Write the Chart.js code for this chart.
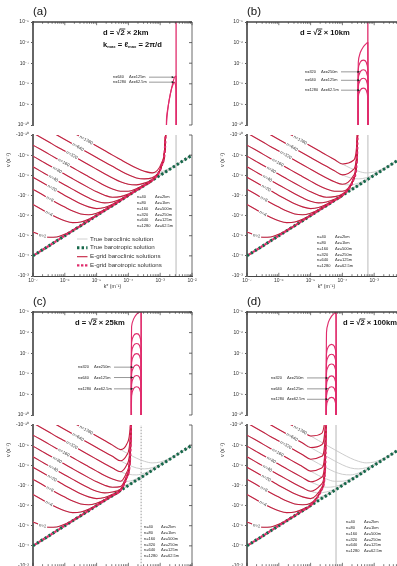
<!DOCTYPE html>
<html lang="en">
<head>
<meta charset="utf-8">
<title>E-grid dispersion relation</title>
<script src="https://cdn.jsdelivr.net/npm/chart.js@4.4.1/dist/chart.umd.min.js"></script>
<style>
  html, body { margin: 0; padding: 0; background: #fff; }
  #fig { position: relative; width: 397px; height: 566px; overflow: hidden; }
  #fig canvas { position: absolute; }
</style>
</head>
<body>
<div id="fig"></div>
<script>
'use strict';

// k* grid (m^-1) the true curves were read on
const kGrid = [1e-7, 1.78e-7, 3.16e-7, 5.62e-7, 1e-6, 1.78e-6, 3.16e-6, 5.62e-6, 1e-5, 1.78e-5, 3.16e-5,
  5.62e-5, 1e-4, 1.78e-4, 3.16e-4, 5.62e-4, 1e-3, 1.78e-3, 3.16e-3, 5.62e-3, 1e-2];

// |nu| (s^-1) of the true barotropic solution
const baroNu = [1e-4, 5.6e-5, 3.2e-5, 1.78e-5, 1e-5, 5.6e-6, 3.2e-6, 1.78e-6, 1e-6, 5.6e-7, 3.2e-7,
  1.78e-7, 1e-7, 5.6e-8, 3.2e-8, 1.78e-8, 1e-8, 5.6e-9, 3.2e-9, 1.78e-9, 1e-9];

// |nu| of the true baroclinic solutions, up to where they join the barotropic line
const bc1280 = [5.6e-12, 9.3e-12, 1.6e-11, 2.6e-11, 4.5e-11, 7.4e-11, 1.26e-10, 2.1e-10, 3.5e-10, 5.9e-10, 1.0e-9,
  1.66e-9, 2.75e-9, 4.4e-9, 6.3e-9, 7.6e-9, 6.9e-9, 4.9e-9, 3.0e-9, 1.74e-9, 1.0e-9];
const bc640 = [2.1e-11, 3.5e-11, 5.9e-11, 9.9e-11, 1.66e-10, 2.8e-10, 4.7e-10, 7.9e-10, 1.32e-9, 2.2e-9, 3.6e-9,
  6.0e-9, 9.5e-9, 1.35e-8, 1.51e-8, 1.32e-8, 8.9e-9, 5.4e-9, 3.1e-9];
const bc320 = [7.9e-11, 1.33e-10, 2.24e-10, 3.8e-10, 6.3e-10, 1.06e-9, 1.78e-9, 3.0e-9, 5.0e-9, 8.3e-9, 1.35e-8,
  2.1e-8, 2.8e-8, 3.0e-8, 2.45e-8, 1.62e-8, 9.8e-9];
const bc160 = [3.2e-10, 5.3e-10, 8.9e-10, 1.5e-9, 2.5e-9, 4.2e-9, 7.1e-9, 1.17e-8, 1.95e-8, 3.2e-8, 4.8e-8,
  6.2e-8, 6.2e-8, 4.7e-8, 2.95e-8, 1.74e-8];
const bc80 = [1.12e-9, 1.88e-9, 3.2e-9, 5.3e-9, 8.9e-9, 1.5e-8, 2.5e-8, 4.1e-8, 6.6e-8, 9.8e-8, 1.23e-7,
  1.15e-7, 8.5e-8, 5.3e-8, 3.1e-8];
const bc40 = [3.8e-9, 6.4e-9, 1.07e-8, 1.8e-8, 3.0e-8, 5.0e-8, 8.3e-8, 1.32e-7, 1.95e-7, 2.35e-7, 2.1e-7,
  1.55e-7, 9.5e-8, 5.5e-8];
const bc20 = [1.26e-8, 2.1e-8, 3.55e-8, 5.9e-8, 1.0e-7, 1.62e-7, 2.6e-7, 3.7e-7, 4.5e-7, 4.0e-7, 2.75e-7,
  1.7e-7, 9.8e-8];
const bc8 = [5.0e-8, 8.3e-8, 1.41e-7, 2.35e-7, 3.8e-7, 6.0e-7, 8.3e-7, 9.1e-7, 7.6e-7, 5.1e-7, 3.0e-7];
const bc4 = [2.8e-7, 4.7e-7, 7.8e-7, 1.23e-6, 1.82e-6, 2.25e-6, 2.1e-6, 1.51e-6, 9.5e-7, 5.5e-7];
const bc1 = [6.5e-6, 9.5e-6, 1.2e-5, 1.15e-5, 8.5e-6, 5.3e-6, 3.1e-6];

const modeN = [1280, 640, 320, 160, 80, 40, 20, 8, 4, 1];
const bcCurves = [bc1280, bc640, bc320, bc160, bc80, bc40, bc20, bc8, bc4, bc1];

// where the "n=" tags sit on the curves
const tagK = [4.7e-6, 2.6e-6, 1.66e-6, 9.3e-7, 5.8e-7, 4.4e-7, 4.0e-7, 3.4e-7, 3.16e-7, 2.0e-7];
const tagNu = [1.78e-10, 4.0e-10, 1.0e-9, 2.35e-9, 5.4e-9, 1.45e-8, 4.4e-8, 1.5e-7, 7.9e-7, 1.0e-5];

// the four grids
const panelTag = ['(a)', '(b)', '(c)', '(d)'];
const spacing = ['2km', '10km', '25km', '100km'];
const kLeft = [1.58e-3, 3.16e-4, 1.26e-4, 3.16e-5];   // E-grid curves turn vertical here
const kRight = [3.16e-3, 6.31e-4, 2.51e-4, 6.31e-5];  // pi*sqrt(2)/d line
const keepTo = [15, 12, 11, 8];                        // last grid point before the E-grid departs
const tailK1 = [1.12e-3, 2.24e-4, 8.9e-5, 2.24e-5];
const tailK2 = [1.45e-3, 2.88e-4, 1.15e-4, 2.88e-5];
const nuZero = 1e-12;                                  // nu crosses zero (off the log axis)

// E-grid |nu| near the turn, order of modeN then barotropic
const tailA1 = [2.3e-9, 2.9e-9, 3.1e-9, 3.2e-9, 3.2e-9, 3.2e-9, 3.2e-9, 3.2e-9, 3.2e-9, 3.2e-9, 3.2e-9];
const tailA2 = [1.8e-10, 2.0e-10, 2.1e-10, 2.2e-10, 2.2e-10, 2.2e-10, 2.2e-10, 2.2e-10, 2.2e-10, 2.2e-10, 2.2e-10];
const tailB1 = [1.8e-9, 5.1e-9, 1.02e-8, 1.38e-8, 1.51e-8, 1.58e-8, 1.58e-8, 1.58e-8, 1.58e-8, 1.58e-8, 1.58e-8];
const tailB2 = [1.9e-10, 4.8e-10, 8.1e-10, 1.0e-9, 1.07e-9, 1.1e-9, 1.1e-9, 1.1e-9, 1.1e-9, 1.1e-9, 1.1e-9];
const tailC1 = [8.7e-10, 3.1e-9, 9.5e-9, 2.2e-8, 3.2e-8, 3.7e-8, 3.9e-8, 4.0e-8, 4.0e-8, 4.0e-8, 4.0e-8];
const tailC2 = [9.8e-11, 3.3e-10, 9.3e-10, 1.86e-9, 2.4e-9, 2.6e-9, 2.7e-9, 2.75e-9, 2.75e-9, 2.75e-9, 2.75e-9];
const tailD1 = [2.6e-10, 9.5e-10, 3.6e-9, 1.35e-8, 3.9e-8, 8.3e-8, 1.26e-7, 1.48e-7, 1.55e-7, 1.58e-7, 1.58e-7];
const tailD2 = [2.9e-11, 1.07e-10, 4.0e-10, 1.41e-9, 3.8e-9, 7.1e-9, 9.3e-9, 1.05e-8, 1.1e-8, 1.1e-8, 1.1e-8];
const tail1 = [tailA1, tailB1, tailC1, tailD1];
const tail2 = [tailA2, tailB2, tailC2, tailD2];

// positive-nu arches between kLeft and kRight (upper panels)
const archKA = [1.58e-3, 1.82e-3, 2.29e-3, 2.82e-3, 3.16e-3];
const archKB = [3.16e-4, 3.63e-4, 4.57e-4, 5.62e-4, 6.31e-4];
const archKC = [1.26e-4, 1.45e-4, 1.82e-4, 2.24e-4, 2.51e-4];
const archKD = [3.16e-5, 3.63e-5, 4.57e-5, 5.62e-5, 6.31e-5];
const archNA = [640, 1280];
const archA = [[1e-10, 1e-9, 6.3e-9, 2.1e-8, 2.3e-8], [2e-10, 1e-9, 6e-9, 1.2e-8, 5e-9]];
const archNB = [0, 160, 320, 640, 1280];
const archB = [[1.1e-7, 3.2e-7, 6.3e-7, 8.9e-7, 1.0e-6], [5.0e-8, 1.12e-7, 1.41e-7, 1.12e-7, 4.5e-8],
  [1.7e-8, 3.8e-8, 4.8e-8, 3.8e-8, 1.51e-8], [6.6e-9, 1.48e-8, 1.86e-8, 1.48e-8, 5.9e-9],
  [2.2e-9, 4.9e-9, 6.2e-9, 4.9e-9, 1.95e-9]];
const archNC = [0, 40, 80, 160, 320, 640, 1280];
const archC = [[2.0e-6, 4.5e-6, 7.9e-6, 1.0e-5, 1.1e-5], [3.2e-7, 7.1e-7, 8.9e-7, 7.1e-7, 2.8e-7],
  [1.05e-7, 2.35e-7, 2.95e-7, 2.35e-7, 9.3e-8], [3.4e-8, 7.6e-8, 9.5e-8, 7.6e-8, 3.0e-8],
  [9.5e-9, 2.1e-8, 2.7e-8, 2.1e-8, 8.5e-9], [2.95e-9, 6.6e-9, 8.3e-9, 6.6e-9, 2.6e-9],
  [8.3e-10, 1.86e-9, 2.35e-9, 1.86e-9, 7.4e-10]];
const archND = [0, 40, 80, 160, 320, 640, 1280];
const archD = [[1.0e-6, 3.2e-6, 6.3e-6, 8.9e-6, 1.1e-5], [9.5e-8, 2.1e-7, 2.7e-7, 2.1e-7, 8.5e-8],
  [3.2e-8, 7.1e-8, 8.9e-8, 7.1e-8, 2.8e-8], [1.07e-8, 2.4e-8, 3.0e-8, 2.4e-8, 9.5e-9],
  [2.8e-9, 6.3e-9, 7.9e-9, 6.3e-9, 2.5e-9], [8.3e-10, 1.86e-9, 2.35e-9, 1.86e-9, 7.4e-10],
  [2.6e-10, 5.8e-10, 7.2e-10, 5.8e-10, 2.3e-10]];
const archK = [archKA, archKB, archKC, archKD];
const archN = [archNA, archNB, archNC, archND];
const archVals = [archA, archB, archC, archD];

// vertical grid table
const tableN = [40, 80, 160, 320, 640, 1280];
const tableDz = ['2km', '1km', '500m', '250m', '125m', '62.5m'];
const legendText = ['True baroclinic solution', 'True barotropic solution',
  'E-grid baroclinic solutions', 'E-grid barotropic solutions'];

// ---- layout / style ----
const FONT = '"Liberation Sans", Arial, sans-serif';
const RED = '#c51f3f', PINK = '#e02c6c', GREEN = '#16684a', GREY = '#c6c6c6';
const W = 214, H_UP = 130, H_LO = 160;
const origin = [[0, 0], [214, 0], [0, 290], [214, 290]];
const titleX = [103, 86, 75, 129];
const arrowTextX = [113, 91, 78, 57];
const tipIdx = [3, 1, 1, 1];
const tablePos = [[137, 155, 66.7], [103, 121, 106.7], [144, 161, 106.7], [132, 150, 101.7]];

const fig = document.getElementById('fig');
function makeCanvas(left, top, w, h) {
  const c = document.createElement('canvas');
  c.width = w; c.height = h;
  c.style.left = left + 'px'; c.style.top = top + 'px';
  c.style.width = w + 'px'; c.style.height = h + 'px';
  fig.appendChild(c);
  return c;
}
const fnt = (s, b) => (b ? 'bold ' : '') + s + 'px ' + FONT;
const supNum = e => String(e).split('').map(c => '\u207B\u2070\u00B9\u00B2\u00B3\u2074\u2075\u2076\u2077\u2078\u2079'['-0123456789'.indexOf(c)]).join('');
const decadeText = v => '10' + supNum(Math.round(Math.log10(v)));
const decades = (a, b) => { const t = []; for (let e = a; e <= b; e++) t.push({ value: Math.pow(10, e) }); return t; };
const pts = (ks, vs) => vs.map((v, i) => ({ x: ks[i], y: v }));
const trueCurve = c => kGrid.map((k, i) => ({ x: k, y: i < c.length ? c[i] : baroNu[i] }));
function eGridCurve(c, p, j) {
  return trueCurve(c).slice(0, keepTo[p] + 1).concat([
    { x: tailK1[p], y: tail1[p][j] }, { x: tailK2[p], y: tail2[p][j] }, { x: kLeft[p], y: nuZero }]);
}

function line(ctx, x1, y1, x2, y2) { ctx.beginPath(); ctx.moveTo(x1, y1); ctx.lineTo(x2, y2); ctx.stroke(); }

function frame(chart, top, yLo, yHi) {
  const { ctx, chartArea: a, scales: { x, y } } = chart;
  ctx.save();
  ctx.strokeStyle = '#444';
  ctx.lineWidth = 0.8;
  line(ctx, a.right, a.top, a.right, a.bottom);
  for (let e = yLo; e <= yHi; e++) {
    const py = y.getPixelForValue(Math.pow(10, e));
    line(ctx, a.right, py, a.right - 3, py);
  }
  if (top) { ctx.lineWidth = 1.3; line(ctx, a.left, a.top, a.right, a.top); }
  ctx.lineWidth = 0.7;
  const edge = top ? a.top : a.bottom, dir = top ? 1 : -1;
  for (let e = -7; e <= -2; e++) {
    for (let m = 1; m <= 9; m++) {
      const v = m * Math.pow(10, e);
      if (v > 1.0001e-2) break;
      const px = x.getPixelForValue(v);
      line(ctx, px, edge, px, edge + dir * (m === 1 ? 3.2 : 1.8));
    }
  }
  ctx.restore();
}

function decorateUpper(chart, p) {
  const { ctx, scales: { x, y } } = chart;
  frame(chart, true, -10, -5);
  ctx.save();
  ctx.fillStyle = '#111';
  ctx.textBaseline = 'middle';
  ctx.font = fnt(11.5);
  ctx.fillText(panelTag[p], 33, 12);
  // d = sqrt(2) x spacing
  let cx = titleX[p];
  const seg = (t, yy) => { ctx.fillText(t, cx, yy); cx += ctx.measureText(t).width; };
  ctx.font = fnt(7.6, true);
  seg('d = ', 33); seg('\u221A', 33);
  const x2 = cx; seg('2', 33);
  ctx.fillRect(x2 - 0.6, 28.6, cx - x2 + 1.2, 0.8);
  seg(' \u00D7 ' + spacing[p], 33);
  if (p === 0) {
    cx = titleX[p];
    const sub = t => { ctx.font = fnt(4.2, true); ctx.fillText(t, cx, 47); cx += ctx.measureText(t).width; ctx.font = fnt(7.6, true); };
    ctx.font = fnt(7.6, true);
    seg('k', 45); sub('max'); seg(' = \u2113', 45); sub('max'); seg(' = 2\u03C0/d', 45);
  }
  // arrows to the labelled arches
  ctx.font = fnt(3.9);
  ctx.strokeStyle = '#333';
  ctx.lineWidth = 0.5;
  archN[p].forEach((n, i) => {
    const r = tableN.indexOf(n);
    if (n < 320) return;
    const tx = x.getPixelForValue(archK[p][tipIdx[p]]);
    const ty = y.getPixelForValue(archVals[p][i][tipIdx[p]]);
    const sx = arrowTextX[p];
    ctx.fillStyle = '#222';
    ctx.fillText('n=' + n, sx, ty);
    ctx.fillText('\u0394z=' + tableDz[r], sx + 16, ty);
    line(ctx, sx + 36, ty, tx - 1.5, ty);
    ctx.beginPath(); ctx.moveTo(tx, ty); ctx.lineTo(tx - 2.8, ty - 1.2); ctx.lineTo(tx - 2.8, ty + 1.2); ctx.closePath(); ctx.fill();
  });
  ctx.restore();
}

function decorateLower(chart, p) {
  const { ctx, scales: { x, y } } = chart;
  frame(chart, false, -10, -3);
  ctx.save();
  ctx.textBaseline = 'middle';
  // n= tags along the curves
  ctx.font = fnt(4.4);
  ctx.textAlign = 'center';
  modeN.forEach((n, i) => {
    const px = x.getPixelForValue(tagK[i]), py = y.getPixelForValue(tagNu[i]);
    ctx.save();
    ctx.translate(px, py);
    ctx.rotate(n === 1 ? 0.2 : 0.52);
    const t = 'n=' + n, w = ctx.measureText(t).width;
    ctx.fillStyle = '#fff'; ctx.fillRect(-w / 2 - 1, -2.3, w + 2, 4.6);
    ctx.fillStyle = '#333'; ctx.fillText(t, 0, 0);
    ctx.restore();
  });
  ctx.textAlign = 'left';
  // grid table
  const [c1, c2, r0] = tablePos[p];
  ctx.font = fnt(4.0);
  ctx.fillStyle = '#222';
  tableN.forEach((n, i) => {
    ctx.fillText('n=' + n, c1, r0 + i * 5.9);
    ctx.fillText('\u0394z=' + tableDz[i], c2, r0 + i * 5.9);
  });
  // y title
  ctx.save();
  ctx.translate(9, 30);
  ctx.rotate(-Math.PI / 2);
  ctx.font = fnt(5.2);
  ctx.textAlign = 'center';
  ctx.fillText('\u03BD (s\u207B\u00B9)', 0, 0);
  ctx.restore();
  if (p === 0) {
    const rows = [109, 117.7, 126.7, 135.3];
    ctx.font = fnt(6.2);
    rows.forEach((ry, i) => {
      ctx.save();
      if (i === 0) { ctx.strokeStyle = '#d0d0d0'; ctx.lineWidth = 1; }
      if (i === 1) { ctx.strokeStyle = GREEN; ctx.lineWidth = 3; ctx.setLineDash([2.4, 2.2]); }
      if (i === 2) { ctx.strokeStyle = RED; ctx.lineWidth = 1.1; }
      if (i === 3) { ctx.strokeStyle = PINK; ctx.lineWidth = 2.2; ctx.setLineDash([2.4, 1.6]); }
      line(ctx, 77, ry, 87.5, ry);
      ctx.restore();
      ctx.fillStyle = '#333';
      ctx.fillText(legendText[i], 90, ry);
    });
  }
  ctx.restore();
}

function tickFont() { return { size: 5, family: FONT }; }

function upperChart(p) {
  const [ox, oy] = origin[p];
  const cv = makeCanvas(ox, oy, W, H_UP);
  const datasets = [{ data: [{ x: kRight[p], y: nuZero }, { x: kRight[p], y: 1e-4 }], borderColor: PINK, borderWidth: 1.3, order: 2 }];
  archVals[p].forEach(v => datasets.push({
    data: [{ x: kLeft[p], y: nuZero }].concat(pts(archK[p], v), [{ x: kRight[p], y: nuZero }]),
    borderColor: PINK, borderWidth: 1.15, tension: 0.3, order: 1
  }));
  return new Chart(cv, {
    type: 'line',
    data: { datasets },
    options: {
      responsive: false, animation: false, devicePixelRatio: 1, events: [],
      layout: { padding: { top: 22, right: 22, bottom: 3, left: 0 } },
      elements: { point: { radius: 0 } },
      plugins: { legend: { display: false }, tooltip: { enabled: false } },
      scales: {
        x: { type: 'logarithmic', min: 1e-7, max: 1e-2, display: false },
        y: {
          type: 'logarithmic', min: 1e-10, max: 1e-5,
          afterFit: s => { s.width = 33; },
          afterBuildTicks: s => { s.ticks = decades(-10, -5); },
          ticks: { callback: v => decadeText(v), font: tickFont(), color: '#333', padding: 2, autoSkip: false },
          grid: { drawOnChartArea: false, tickLength: 2, color: '#555' },
          border: { width: 2, color: '#666' }
        }
      }
    },
    plugins: [{ id: 'decoUp', afterDatasetsDraw: ch => decorateUpper(ch, p) }]
  });
}

function lowerChart(p) {
  const [ox, oy] = origin[p];
  const cv = makeCanvas(ox, oy + H_UP, W, H_LO);
  const datasets = [{
    data: [{ x: kRight[p], y: nuZero }, { x: kRight[p], y: 1e-2 }],
    borderColor: p === 2 ? '#9a9a9a' : '#d6d6d6', borderWidth: 1, borderDash: p === 2 ? [1.5, 1.5] : [], order: 30
  }];
  bcCurves.forEach(c => datasets.push({ data: trueCurve(c), borderColor: GREY, borderWidth: 0.9, cubicInterpolationMode: 'monotone', order: 20 }));
  datasets.push({ data: pts(kGrid, baroNu), borderColor: GREEN, borderWidth: 3, borderDash: [2.4, 2.2], order: 10 });
  bcCurves.forEach((c, j) => datasets.push({ data: eGridCurve(c, p, j), borderColor: RED, borderWidth: 1.1, cubicInterpolationMode: 'monotone', order: 6 }));
  datasets.push({ data: eGridCurve(baroNu, p, 10), borderColor: PINK, borderWidth: 2.2, borderDash: [2.4, 2.2], borderDashOffset: 2.3, cubicInterpolationMode: 'monotone', order: 4 });
  return new Chart(cv, {
    type: 'line',
    data: { datasets },
    options: {
      responsive: false, animation: false, devicePixelRatio: 1, events: [],
      layout: { padding: { top: 5, right: 22, bottom: 0, left: 0 } },
      elements: { point: { radius: 0 } },
      plugins: { legend: { display: false }, tooltip: { enabled: false } },
      scales: {
        x: {
          type: 'logarithmic', min: 1e-7, max: 1e-2,
          afterFit: s => { s.height = 14; },
          afterBuildTicks: s => { s.ticks = decades(-7, -2); },
          ticks: { callback: v => decadeText(v), font: tickFont(), color: '#333', padding: 2, autoSkip: false, maxRotation: 0 },
          grid: { drawOnChartArea: false, drawTicks: false },
          border: { width: 1, color: '#444' },
          title: { display: true, text: 'k* (m\u207B\u00B9)', font: { size: 5.2, family: FONT }, color: '#333', padding: 0 }
        },
        y: {
          type: 'logarithmic', min: 1e-10, max: 1e-3, reverse: true,
          afterFit: s => { s.width = 33; },
          afterBuildTicks: s => { s.ticks = decades(-10, -3); },
          ticks: { callback: v => '-' + decadeText(v), font: tickFont(), color: '#333', padding: 2, autoSkip: false },
          grid: { drawOnChartArea: false, tickLength: 2, color: '#555' },
          border: { width: 2, color: '#666' }
        }
      }
    },
    plugins: [{ id: 'decoLo', afterDatasetsDraw: ch => decorateLower(ch, p) }]
  });
}

for (let p = 0; p < 4; p++) { upperChart(p); lowerChart(p); }
</script>
</body>
</html>
